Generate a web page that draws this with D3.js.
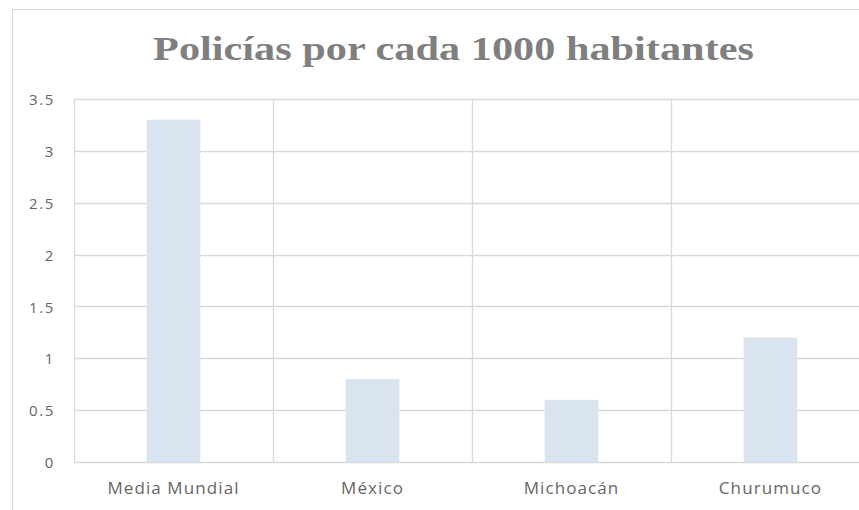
<!DOCTYPE html>
<html>
<head>
<meta charset="utf-8">
<script src="https://cdn.jsdelivr.net/npm/d3@7"></script>
<style>
	body { margin: 0; background: #fff; }
	svg { display: block; }
	.tick text { font-family: "Open Sans", "DejaVu Sans", sans-serif; }
</style>
</head>
<body>
<svg class="chart"></svg>
<script>
var categories = ["Media Mundial", "México", "Michoacán", "Churumuco"];
var values = [3.3, 0.8, 0.6, 1.2];
var yTicks = [0, 0.5, 1, 1.5, 2, 2.5, 3, 3.5];
var title = "Policías por cada 1000 habitantes";

var W = 859, H = 510;
var margin = {top: 99, left: 74, right: -11, bottom: 48};

var chart = d3.select(".chart")
	.attr("width", W)
	.attr("height", H);

// outer chart frame, cut off at right and bottom like the source
chart.append("rect")
	.attr("x", 12.5).attr("y", 9.5)
	.attr("width", 1000).attr("height", 1000)
	.attr("fill", "none")
	.attr("stroke", "#d9d9d9");

var x = d3.scaleBand()
	.domain(categories)
	.range([margin.left, W - margin.right])
	.padding(0);

var y = d3.scaleLinear()
	.domain([0, 3.5])
	.range([H - margin.bottom, margin.top]);

var grid = chart.append("g");

// horizontal grid
grid.selectAll("line.h")
	.data(yTicks)
	.enter().append("line")
	.attr("class", "h")
	.attr("x1", margin.left).attr("x2", W - margin.right)
	.attr("y1", function(d) { return Math.round(y(d)) + 0.5; })
	.attr("y2", function(d) { return Math.round(y(d)) + 0.5; })
	.attr("stroke", "#d9d9d9")
	.attr("stroke-width", 1.3);

// vertical grid at category boundaries
var bounds = categories.map(function(c) { return x(c); }).concat([x.range()[1]]);
grid.selectAll("line.v")
	.data(bounds)
	.enter().append("line")
	.attr("class", "v")
	.attr("x1", function(d) { return Math.round(d) + 0.5; })
	.attr("x2", function(d) { return Math.round(d) + 0.5; })
	.attr("y1", y(3.5)).attr("y2", y(0))
	.attr("stroke", "#d9d9d9")
	.attr("stroke-width", 1.3);

var barW = x.bandwidth() * 0.27;

chart.selectAll("rect.bar")
	.data(values)
	.enter().append("rect")
	.attr("class", "bar")
	.attr("x", function(d, i) { return x(categories[i]) + x.bandwidth() / 2 - barW / 2; })
	.attr("y", function(d) { return y(d); })
	.attr("width", barW)
	.attr("height", function(d) { return y(0) - y(d); })
	.attr("fill", "#dae3f0");

// y axis labels
var yAxis = chart.append("g")
	.attr("transform", "translate(55,0)")
	.call(d3.axisLeft(y).tickValues(yTicks).tickFormat(d3.format("")).tickSize(0).tickPadding(0));
yAxis.select(".domain").remove();
yAxis.selectAll("text")
	.attr("fill", "#666")
	.attr("dy", "0.38em")
	.style("font-size", "15px")
	.style("letter-spacing", "1.6px");

// x axis labels
var xAxis = chart.append("g")
	.attr("transform", "translate(0," + y(0) + ")")
	.call(d3.axisBottom(x).tickSize(0).tickPadding(0));
xAxis.select(".domain").remove();
xAxis.selectAll("text")
	.attr("dy", null)
	.attr("y", 32)
	.attr("fill", "#666")
	.style("font-size", "17px")
	.style("letter-spacing", "1.1px");

// title: fixed height, stretched sideways to the width it has in the source
var titleSize = 33;
var tg = chart.append("g");
var t = tg.append("text")
	.attr("x", 0)
	.attr("y", 0)
	.attr("text-anchor", "middle")
	.attr("fill", "#7f7f7f")
	.style("font-family", "'Liberation Serif', serif")
	.style("font-weight", "bold")
	.style("font-size", titleSize + "px")
	.text(title);
var len = t.node().getComputedTextLength();
tg.attr("transform", "translate(453.5,60) scale(" + (601 / len) + ",1)");
</script>
</body>
</html>
